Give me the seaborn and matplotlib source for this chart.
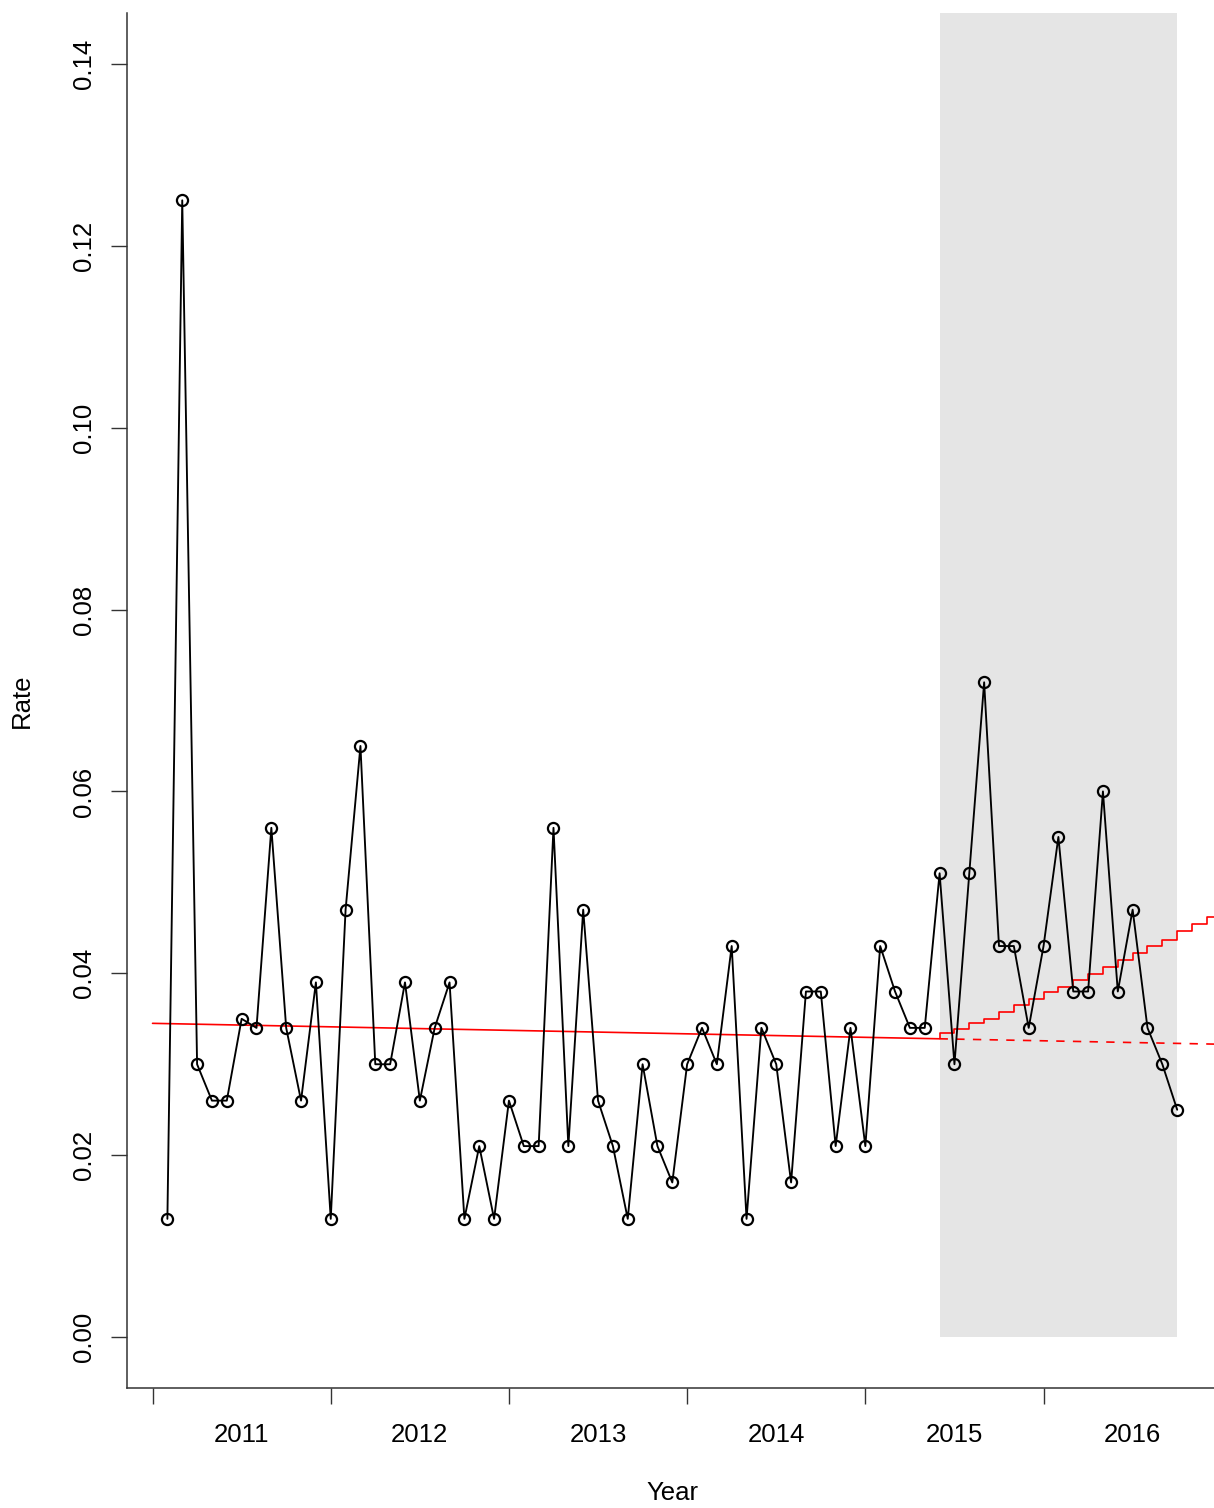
import numpy as np
import pandas as pd
import matplotlib
matplotlib.use("Agg")
import matplotlib.pyplot as plt
from matplotlib.patches import Rectangle
import seaborn as sns

# Monthly rate series (month index counted from the start of 2011)
months = list(range(1, 70))
rates = [
    0.013, 0.125, 0.030, 0.026, 0.026, 0.035, 0.034, 0.056, 0.034, 0.026, 0.039, 0.013,
    0.047, 0.065, 0.030, 0.030, 0.039, 0.026, 0.034, 0.039, 0.013, 0.021, 0.013, 0.026,
    0.021, 0.021, 0.056, 0.021, 0.047, 0.026, 0.021, 0.013, 0.030, 0.021, 0.017, 0.030,
    0.034, 0.030, 0.043, 0.013, 0.034, 0.030, 0.017, 0.038, 0.038, 0.021, 0.034, 0.021,
    0.043, 0.038, 0.034, 0.034, 0.051, 0.030, 0.051, 0.072, 0.043, 0.043, 0.034, 0.043,
    0.055, 0.038, 0.038, 0.060, 0.038, 0.047, 0.034, 0.030, 0.025,
]

# Pre-intervention fitted trend and its counterfactual extension
trend_months = [0, 53]
trend_rates = [0.0345, 0.0328]
counterfactual_months = [53, 72]
counterfactual_rates = [0.0328, 0.0322]

# Post-intervention fitted values (monthly steps)
post_months = list(range(53, 73))
post_rates = [
    0.0329, 0.0334, 0.0339, 0.0345, 0.0350, 0.0358, 0.0365, 0.0372, 0.0379, 0.0385,
    0.0393, 0.0399, 0.0407, 0.0415, 0.0422, 0.0430, 0.0437, 0.0446, 0.0454, 0.0462,
]

# Shaded intervention period (months)
period_start, period_end = 53, 69

year_ticks = [2011, 2012, 2013, 2014, 2015, 2016]
year_labels = ["2011", "2012", "2013", "2014", "2015", "2016"]
rate_ticks = [0.00, 0.02, 0.04, 0.06, 0.08, 0.10, 0.12, 0.14]
rate_labels = ["0.00", "0.02", "0.04", "0.06", "0.08", "0.10", "0.12", "0.14"]

BASE_YEAR = 2011


def to_year(m):
    return BASE_YEAR + np.asarray(m, dtype=float) / 12.0


sns.set_style("ticks")
plt.rcParams["font.family"] = ["Liberation Sans", "DejaVu Sans"]
plt.rcParams["font.size"] = 18.5
plt.rcParams["text.color"] = "black"
plt.rcParams["axes.labelcolor"] = "black"
plt.rcParams["xtick.labelcolor"] = "black"
plt.rcParams["ytick.labelcolor"] = "black"

fig = plt.figure(figsize=(12.14, 15.08), dpi=100)
ax = fig.add_axes([127 / 1214, 120 / 1508, 1087 / 1214, 1375 / 1508])

# shaded period
x0 = to_year(period_start)
x1 = to_year(period_end)
ax.add_patch(Rectangle((x0, 0.0), x1 - x0, 1.0, facecolor="#E5E5E5",
                       edgecolor="none", zorder=0))

df = pd.DataFrame({"year": to_year(months), "rate": rates})
sns.lineplot(data=df, x="year", y="rate", ax=ax, color="black", linewidth=1.35,
             marker="o", markersize=8, markerfacecolor="none",
             markeredgecolor="black", markeredgewidth=1.6,
             sort=False, estimator=None, zorder=3)

sns.lineplot(x=to_year(trend_months), y=trend_rates, ax=ax, color="red",
             linewidth=1.2, sort=False, estimator=None, zorder=2)
sns.lineplot(x=to_year(counterfactual_months), y=counterfactual_rates, ax=ax,
             color="red", linewidth=1.2, dashes=False, sort=False,
             estimator=None, zorder=2, linestyle=(0, (5, 5)))
sns.lineplot(x=to_year(post_months), y=post_rates, ax=ax, color="red",
             linewidth=1.2, drawstyle="steps-pre", sort=False,
             estimator=None, zorder=2)

# axis limits (4% padding around the data range)
xr = to_year(months[-1]) - to_year(months[0])
ax.set_xlim(to_year(months[0]) - 0.04 * xr, to_year(months[0]) - 0.04 * xr + 1087 / 178.2)
ax.set_ylim(-0.0056, 0.1456)

# year boundaries as ticks, year names centred between them
ax.set_xticks(year_ticks)
ax.set_xticklabels([""] * len(year_ticks))
ax.set_xticks([y + 0.5 for y in year_ticks], minor=True)
ax.set_xticklabels(year_labels, minor=True)
ax.tick_params(axis="x", which="major", length=11.5, width=1.0, color="#333333")
ax.tick_params(axis="x", which="minor", length=0, pad=25, labelsize=18.5)

ax.set_yticks(rate_ticks)
ax.set_yticklabels(rate_labels)
ax.tick_params(axis="y", length=11.5, width=1.0, color="#333333", pad=10.5,
               labelsize=18.5, labelrotation=90)
for lab in ax.get_yticklabels():
    lab.set_va("center")

for side in ("top", "right"):
    ax.spines[side].set_visible(False)
for side in ("left", "bottom"):
    ax.spines[side].set_linewidth(1.1)
    ax.spines[side].set_color("#333333")

ax.set_xlabel("Year", fontsize=18.5)
ax.set_ylabel("Rate", fontsize=18.5)
ax.xaxis.set_label_coords((672 - 127) / 1087, -(1493 - 1388) / 1375)
ax.xaxis.label.set_va("center")
ax.yaxis.set_label_coords((22 - 127) / 1087, 0.5)
ax.yaxis.label.set_va("center")

fig.savefig("out.png", dpi=100, facecolor="white")
